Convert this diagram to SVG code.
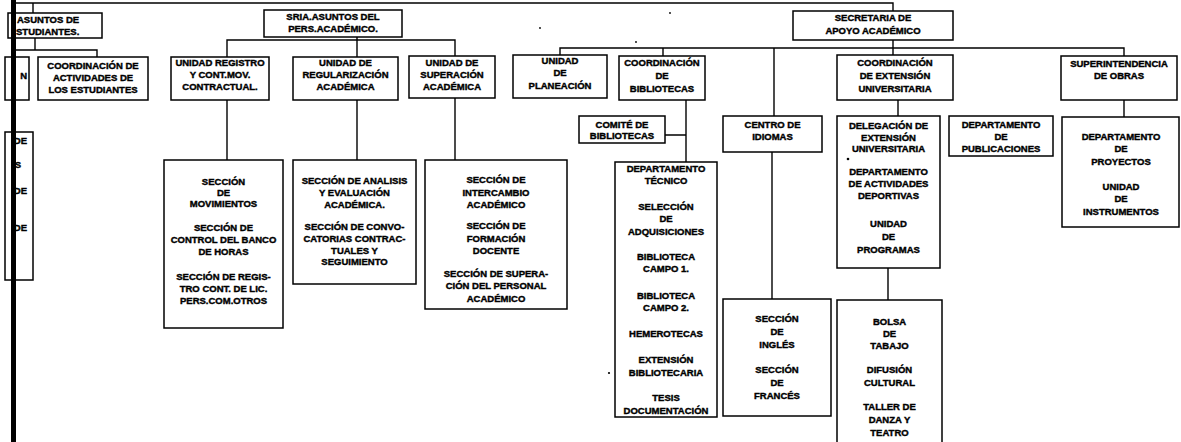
<svg xmlns="http://www.w3.org/2000/svg" width="1181" height="442" viewBox="0 0 1181 442">
<style>
.b{fill:#fff;stroke:#000;stroke-width:1.5}
.c{fill:none;stroke:#000;stroke-width:1.4}
.t{font-family:"Liberation Sans",Arial,sans-serif;font-weight:bold;font-size:9.5px;text-anchor:middle;fill:#000;stroke:#000;stroke-width:0.4}
.s{text-anchor:start}
.e{text-anchor:end}
</style>
<rect width="1181" height="442" fill="#fff"/>
<g id="connectors">
<path class="c" d="M11 3H893V11" stroke-width="2"/>
<path class="c" d="M33 3V13"/>
<path class="c" d="M35 38V50M13 50H97V57"/>
<path class="c" d="M357 37V57M227 57V40H455V56"/>
<path class="c" d="M227 100V160M357 100V160M455 98V160"/>
<path class="c" d="M893 40V55M560 55V48H1124V56M663 48V56M774 48V116"/>
<path class="c" d="M686 100V162M665 135H686"/>
<path class="c" d="M772 152V299"/>
<path class="c" d="M898 100V116M888 268V300"/>
<path class="c" d="M1124 100V117"/>
</g>
<g id="n_asuntos"><rect class="b" x="8" y="13" width="94" height="25"/>
<text class="t s" x="17" y="22.5">ASUNTOS DE</text><text class="t s" x="16" y="35">STUDIANTES.</text></g>
<g id="n_left1"><rect class="b" x="5" y="57" width="24" height="43"/><text class="t e" x="27" y="78.5">N</text></g>
<g id="n_coordact"><rect class="b" x="38" y="57" width="110" height="43"/>
<text class="t"><tspan x="93" y="68.5">COORDINACIÓN DE</tspan><tspan x="93" y="80.5">ACTIVIDADES DE</tspan><tspan x="93" y="92.5">LOS ESTUDIANTES</tspan></text></g>
<g id="n_left2"><rect class="b" x="5" y="132" width="28" height="148"/>
<text class="t e" x="27" y="143.5">DE</text><text class="t e" x="21" y="167.5">S</text><text class="t e" x="27" y="193.5">DE</text><text class="t e" x="27" y="230.5">DE</text></g>
<g id="n_sria"><rect class="b" x="264" y="10" width="138" height="27"/>
<text class="t"><tspan x="333" y="19.5">SRIA.ASUNTOS DEL</tspan><tspan x="333" y="31.5">PERS.ACADÉMICO.</tspan></text></g>
<g id="n_unireg"><rect class="b" x="171" y="57" width="98" height="43"/>
<text class="t"><tspan x="220" y="65.5">UNIDAD REGISTRO</tspan><tspan x="220" y="77.5">Y CONT.MOV.</tspan><tspan x="220" y="89.5">CONTRACTUAL.</tspan></text></g>
<g id="n_unireglz"><rect class="b" x="293" y="57" width="105" height="43"/>
<text class="t"><tspan x="345.5" y="65.5">UNIDAD DE</tspan><tspan x="345.5" y="77.5">REGULARIZACIÓN</tspan><tspan x="345.5" y="90">ACADÉMICA</tspan></text></g>
<g id="n_unisup"><rect class="b" x="409" y="56" width="86" height="42"/>
<text class="t"><tspan x="452" y="65.5">UNIDAD DE</tspan><tspan x="452" y="77.5">SUPERACIÓN</tspan><tspan x="452" y="90">ACADÉMICA</tspan></text></g>
<g id="n_mov"><rect class="b" x="164" y="160" width="119" height="168"/>
<text class="t"><tspan x="223.5" y="184.5">SECCIÓN</tspan><tspan x="223.5" y="195.5">DE</tspan><tspan x="223.5" y="206.5">MOVIMIENTOS</tspan><tspan x="223.5" y="231">SECCIÓN DE</tspan><tspan x="223.5" y="243">CONTROL DEL BANCO</tspan><tspan x="223.5" y="255">DE HORAS</tspan><tspan x="223.5" y="279.5">SECCIÓN DE REGIS-</tspan><tspan x="223.5" y="291.5">TRO CONT. DE LIC.</tspan><tspan x="223.5" y="303.5">PERS.COM.OTROS</tspan></text></g>
<g id="n_anal"><rect class="b" x="293" y="160" width="123" height="124"/>
<text class="t"><tspan x="354.5" y="184">SECCIÓN DE ANALISIS</tspan><tspan x="354.5" y="196">Y EVALUACIÓN</tspan><tspan x="354.5" y="207.5">ACADÉMICA.</tspan><tspan x="354.5" y="230">SECCIÓN DE CONVO-</tspan><tspan x="354.5" y="241.5">CATORIAS CONTRAC-</tspan><tspan x="354.5" y="253.5">TUALES Y</tspan><tspan x="354.5" y="265">SEGUIMIENTO</tspan></text></g>
<g id="n_inter"><rect class="b" x="425" y="160" width="142" height="149"/>
<text class="t"><tspan x="496" y="182.5">SECCIÓN DE</tspan><tspan x="496" y="195.5">INTERCAMBIO</tspan><tspan x="496" y="208">ACADÉMICO</tspan><tspan x="496" y="229">SECCIÓN DE</tspan><tspan x="496" y="241.5">FORMACIÓN</tspan><tspan x="496" y="254">DOCENTE</tspan><tspan x="496" y="277">SECCIÓN DE SUPERA-</tspan><tspan x="496" y="289">CIÓN DEL PERSONAL</tspan><tspan x="496" y="301.5">ACADÉMICO</tspan></text></g>
<g id="n_sec"><rect class="b" x="793" y="11" width="160" height="29"/>
<text class="t"><tspan x="873" y="20.5">SECRETARIA DE</tspan><tspan x="873" y="33.5">APOYO ACADÉMICO</tspan></text></g>
<g id="n_plan"><rect class="b" x="513" y="55" width="94" height="43"/>
<text class="t"><tspan x="560" y="63.5">UNIDAD</tspan><tspan x="560" y="76">DE</tspan><tspan x="560" y="89">PLANEACIÓN</tspan></text></g>
<g id="n_coordbib"><rect class="b" x="619" y="56" width="86" height="44"/>
<text class="t"><tspan x="662" y="65.5">COORDINACIÓN</tspan><tspan x="662" y="78.5">DE</tspan><tspan x="662" y="91.5">BIBLIOTECAS</tspan></text></g>
<g id="n_comite"><rect class="b" x="579" y="116" width="86" height="27"/>
<text class="t"><tspan x="622" y="127.5">COMITÉ DE</tspan><tspan x="622" y="139">BIBLIOTECAS</tspan></text></g>
<g id="n_deptec"><rect class="b" x="615" y="162" width="102" height="255"/>
<text class="t"><tspan x="666" y="171.5">DEPARTAMENTO</tspan><tspan x="666" y="184">TÉCNICO</tspan><tspan x="666" y="209.5">SELECCIÓN</tspan><tspan x="666" y="222">DE</tspan><tspan x="666" y="235">ADQUISICIONES</tspan><tspan x="666" y="260">BIBLIOTECA</tspan><tspan x="666" y="272">CAMPO 1.</tspan><tspan x="666" y="298.5">BIBLIOTECA</tspan><tspan x="666" y="311">CAMPO 2.</tspan><tspan x="666" y="337">HEMEROTECAS</tspan><tspan x="666" y="362.5">EXTENSIÓN</tspan><tspan x="666" y="375.5">BIBLIOTECARIA</tspan><tspan x="666" y="401">TESIS</tspan><tspan x="666" y="413.5">DOCUMENTACIÓN</tspan></text></g>
<g id="n_centro"><rect class="b" x="723" y="116" width="99" height="36"/>
<text class="t"><tspan x="772.5" y="127.5">CENTRO DE</tspan><tspan x="772.5" y="139.5">IDIOMAS</tspan></text></g>
<g id="n_ingles"><rect class="b" x="723" y="299" width="108" height="117"/>
<text class="t"><tspan x="777" y="321.5">SECCIÓN</tspan><tspan x="777" y="335">DE</tspan><tspan x="777" y="347.5">INGLÉS</tspan><tspan x="777" y="373">SECCIÓN</tspan><tspan x="777" y="386">DE</tspan><tspan x="777" y="398.5">FRANCÉS</tspan></text></g>
<g id="n_coordext"><rect class="b" x="837" y="55" width="116" height="45"/>
<text class="t"><tspan x="895" y="65.5">COORDINACIÓN</tspan><tspan x="895" y="78.5">DE EXTENSIÓN</tspan><tspan x="895" y="91.5">UNIVERSITARIA</tspan></text></g>
<g id="n_deleg"><rect class="b" x="837" y="116" width="103" height="152"/>
<text class="t"><tspan x="888.5" y="128.5">DELEGACIÓN DE</tspan><tspan x="888.5" y="140.5">EXTENSIÓN</tspan><tspan x="888.5" y="152">UNIVERSITARIA</tspan><tspan x="888.5" y="174.5">DEPARTAMENTO</tspan><tspan x="888.5" y="187">DE ACTIVIDADES</tspan><tspan x="888.5" y="199">DEPORTIVAS</tspan><tspan x="888.5" y="226.5">UNIDAD</tspan><tspan x="888.5" y="239.5">DE</tspan><tspan x="888.5" y="252.5">PROGRAMAS</tspan></text>
<circle cx="848" cy="159" r="1.3" fill="#000"/></g>
<g id="n_bolsa"><rect class="b" x="837" y="300" width="105" height="150"/>
<text class="t"><tspan x="889.5" y="324.5">BOLSA</tspan><tspan x="889.5" y="336.5">DE</tspan><tspan x="889.5" y="348.5">TABAJO</tspan><tspan x="889.5" y="373">DIFUSIÓN</tspan><tspan x="889.5" y="386">CULTURAL</tspan><tspan x="889.5" y="410">TALLER DE</tspan><tspan x="889.5" y="422.5">DANZA Y</tspan><tspan x="889.5" y="435.5">TEATRO</tspan></text></g>
<g id="n_pub"><rect class="b" x="949" y="116" width="104" height="40"/>
<text class="t"><tspan x="1001" y="127.5">DEPARTAMENTO</tspan><tspan x="1001" y="139.5">DE</tspan><tspan x="1001" y="151.5">PUBLICACIONES</tspan></text></g>
<g id="n_super"><rect class="b" x="1061" y="56" width="116" height="44"/>
<text class="t"><tspan x="1119" y="66.5">SUPERINTENDENCIA</tspan><tspan x="1119" y="78.5">DE OBRAS</tspan></text></g>
<g id="n_proy"><rect class="b" x="1062" y="117" width="117" height="110"/>
<text class="t"><tspan x="1121" y="139.5">DEPARTAMENTO</tspan><tspan x="1121" y="151.5">DE</tspan><tspan x="1121" y="164.5">PROYECTOS</tspan><tspan x="1121" y="190">UNIDAD</tspan><tspan x="1121" y="202">DE</tspan><tspan x="1121" y="215">INSTRUMENTOS</tspan></text></g>
<g id="specks" fill="#000">
<circle cx="609" cy="373" r="1.1"/>
<circle cx="540" cy="28" r="0.9"/>
<circle cx="636" cy="42" r="0.9"/>
<circle cx="670" cy="13" r="0.9"/>
</g>
<rect id="left_bar" x="11" y="0" width="5" height="442" fill="#000"/>
</svg>
